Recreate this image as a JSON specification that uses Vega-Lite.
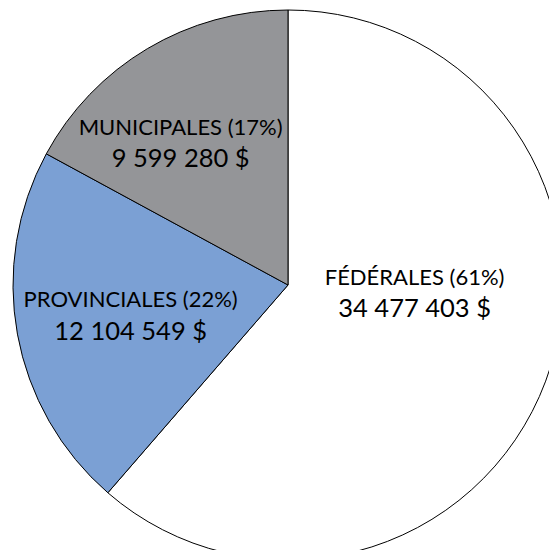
{
  "$schema": "https://vega.github.io/schema/vega-lite/v6.json",
  "width": 576,
  "height": 570,
  "autosize": "none",
  "padding": 0,
  "background": "white",
  "config": {"view": {"stroke": null}},
  "data": {
    "values": [
      {"categorie": "Fédérales", "ordre": 1, "montant": 34477403, "etiquette": "FÉDÉRALES (61%)", "texte_montant": "34 477 403 $"},
      {"categorie": "Provinciales", "ordre": 2, "montant": 12104549, "etiquette": "PROVINCIALES (22%)", "texte_montant": "12 104 549 $"},
      {"categorie": "Municipales", "ordre": 3, "montant": 9599280, "etiquette": "MUNICIPALES (17%)", "texte_montant": "9 599 280 $"}
    ]
  },
  "encoding": {
    "theta": {"field": "montant", "type": "quantitative", "stack": true},
    "order": {"field": "ordre", "type": "quantitative"}
  },
  "layer": [
    {
      "mark": {"type": "arc", "radius": 275, "stroke": "#000000", "strokeWidth": 1},
      "encoding": {
        "color": {
          "field": "categorie",
          "type": "nominal",
          "scale": {"domain": ["Fédérales", "Provinciales", "Municipales"], "range": ["#ffffff", "#7ba0d4", "#949598"]},
          "legend": null
        }
      }
    },
    {
      "mark": {
        "type": "text", "radius": 165, "font": "Lato", "fontSize": 22, "color": "#000000",
        "dx": {"expr": "datum.categorie === 'Fédérales' ? -28 : datum.categorie === 'Provinciales' ? 5 : -23"},
        "dy": {"expr": "(datum.categorie === 'Fédérales' ? -50 : datum.categorie === 'Provinciales' ? 1 : 0) - 15"}
      },
      "encoding": {"text": {"field": "etiquette"}}
    },
    {
      "mark": {
        "type": "text", "radius": 165, "font": "Lato", "fontSize": 25.5, "color": "#000000",
        "dx": {"expr": "datum.categorie === 'Fédérales' ? -28 : datum.categorie === 'Provinciales' ? 5 : -23"},
        "dy": {"expr": "(datum.categorie === 'Fédérales' ? -50 : datum.categorie === 'Provinciales' ? 2 : 0) + 16"}
      },
      "encoding": {"text": {"field": "texte_montant"}}
    }
  ]
}
